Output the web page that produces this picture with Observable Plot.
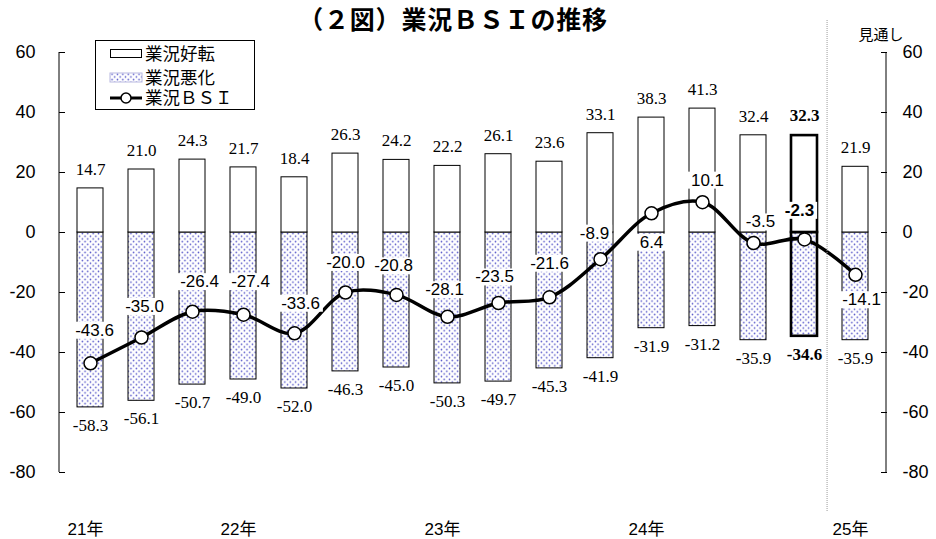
<!DOCTYPE html>
<html><head><meta charset="utf-8">
<script src="https://cdn.jsdelivr.net/npm/d3@7"></script>
<script src="https://cdn.jsdelivr.net/npm/@observablehq/plot@0.6"></script>
<style>body{margin:0;background:#fff;} #chart{width:936px;height:539px;}</style>
</head><body><div id="chart"></div>
<script>
// ---- data ----
const periods = ["P01","P02","P03","P04","P05","P06","P07","P08","P09","P10","P11","P12","P13","P14","P15","P16"];
const improve = [14.7,21.0,24.3,21.7,18.4,26.3,24.2,22.2,26.1,23.6,33.1,38.3,41.3,32.4,32.3,21.9];
const worsen = [-58.3,-56.1,-50.7,-49.0,-52.0,-46.3,-45.0,-50.3,-49.7,-45.3,-41.9,-31.9,-31.2,-35.9,-34.6,-35.9];
const bsi = [-43.6,-35.0,-26.4,-27.4,-33.6,-20.0,-20.8,-28.1,-23.5,-21.6,-8.9,6.4,10.1,-3.5,-2.3,-14.1];
const yearTickAt = ["P01","P04","P08","P12","P16"];
const yearTickLabels = ["21年","22年","23年","24年","25年"];
const yTicks = [-80,-60,-40,-20,0,20,40,60];
const highlightPeriod = "P15";
const forecastStart = "P16";
const legendLabels = ["業況好転","業況悪化","業況ＢＳＩ"];
const titleText = "（２図）業況ＢＳＩの推移";
const forecastLabel = "見通し";
// label placement (pixels) for BSI value labels
const bsiLabelDy = [-33,-31,-30,-33,-30,-30,-29,-27,-26,-34,-26,29,-22,-21,-29,25];
const bsiLabelDx = [4,3,7,7,6,0,-3,-3,-4,0,-6,0,5,7,-5,6];

const rows = periods.map((p, i) => ({p, up: improve[i], down: worsen[i], bsi: bsi[i],
  dy: bsiLabelDy[i], dx: bsiLabelDx[i], hl: p === highlightPeriod}));

const sans = "'Liberation Sans', Arial, 'Noto Sans CJK JP', sans-serif";
const serif = "'Liberation Serif', 'Times New Roman', serif";
const jp = "'Liberation Sans', 'Noto Sans CJK JP', sans-serif";

const bsiGroups = d3.groups(rows, d => `${d.dx}|${d.dy}|${d.hl}`).map(([, g]) => Plot.text(g, {
  x: "p", y: "bsi", text: d => d.bsi.toFixed(1), dx: g[0].dx, dy: g[0].dy,
  fontFamily: sans, fontSize: 17, fontWeight: g[0].hl ? "bold" : "normal", fill: "black",
  ariaDescription: "bsi-label"
}));

const plot = Plot.plot({
  width: 936, height: 539,
  marginLeft: 59, marginRight: 50, marginTop: 52, marginBottom: 67,
  style: {background: "white", color: "black"},
  x: {domain: periods, paddingInner: 0.5, paddingOuter: 0.25, axis: null},
  y: {domain: [-80, 60], axis: null},
  marks: [
    Plot.barY(rows, {x: "p", y1: 0, y2: "down", fill: "url(#dots)", stroke: "black", strokeWidth: d => d.hl ? 2.6 : 1}),
    Plot.barY(rows, {x: "p", y1: 0, y2: "up", fill: "white", stroke: "black", strokeWidth: d => d.hl ? 2.6 : 1}),
    Plot.text(rows.filter(d => !d.hl), {x: "p", y: "up", text: d => d.up.toFixed(1), dy: -19, fontFamily: serif, fontSize: 17}),
    Plot.text(rows.filter(d => d.hl), {x: "p", y: "up", text: d => d.up.toFixed(1), dy: -20, fontFamily: serif, fontSize: 17, fontWeight: "bold"}),
    Plot.text(rows.filter(d => !d.hl), {x: "p", y: "down", text: d => d.down.toFixed(1), dy: 18, fontFamily: serif, fontSize: 17}),
    Plot.text(rows.filter(d => d.hl), {x: "p", y: "down", text: d => d.down.toFixed(1), dy: 18, fontFamily: serif, fontSize: 17, fontWeight: "bold"}),
    Plot.line(rows, {x: "p", y: "bsi", curve: "catmull-rom", stroke: "black", strokeWidth: 3.5}),
    Plot.dot(rows, {x: "p", y: "bsi", r: 6.5, fill: "white", stroke: "black", strokeWidth: 1.5}),
    ...bsiGroups,
    Plot.axisY(yTicks, {anchor: "left", tickSize: -6, tickPadding: 30, tickFormat: d => String(d), fontSize: 18, fontFamily: sans, label: null}),
    Plot.axisY(yTicks, {anchor: "right", tickSize: -6, tickPadding: 22, tickFormat: d => String(d), fontSize: 18, fontFamily: sans, label: null}),
    Plot.axisX(yearTickAt, {anchor: "bottom", tickSize: 0, tickPadding: 50, dx: -5,
      tickFormat: d => yearTickLabels[yearTickAt.indexOf(d)], fontSize: 17, fontFamily: jp, label: null})
  ]
});
document.getElementById("chart").appendChild(plot);

const svg = d3.select(plot);
// pattern
const defs = svg.insert("defs", ":first-child");
const pat = defs.append("pattern").attr("id", "dots").attr("patternUnits", "userSpaceOnUse")
  .attr("width", 5.4).attr("height", 5.4);
pat.append("rect").attr("width", 5.4).attr("height", 5.4).attr("fill", "white");
pat.append("circle").attr("cx", 1.35).attr("cy", 1.35).attr("r", 0.8).attr("fill", "#5252c8");
pat.append("circle").attr("cx", 4.05).attr("cy", 4.05).attr("r", 0.8).attr("fill", "#5252c8");

// white boxes behind BSI labels
svg.selectAll('g[aria-description="bsi-label"]').each(function() {
  const g = this;
  Array.from(g.querySelectorAll("text")).forEach(t => {
    const b = t.getBBox();
    const r = document.createElementNS("http://www.w3.org/2000/svg", "rect");
    r.setAttribute("x", b.x - 3); r.setAttribute("y", b.y + 1);
    r.setAttribute("width", b.width + 6); r.setAttribute("height", b.height - 2);
    r.setAttribute("fill", "white");
    if (t.getAttribute("transform")) r.setAttribute("transform", t.getAttribute("transform"));
    g.insertBefore(r, t);
  });
});

// axis lines & forecast divider from scales
const xs = plot.scale("x"), ys = plot.scale("y");
const [x0, x1] = xs.range;
const [yb, yt] = ys.range;
const band = d3.scaleBand().domain(xs.domain).range(xs.range).paddingInner(xs.paddingInner).paddingOuter(xs.paddingOuter);
const deco = svg.append("g");
deco.append("line").attr("x1", x0).attr("x2", x0).attr("y1", yt).attr("y2", yb).attr("stroke", "black");
deco.append("line").attr("x1", x1).attr("x2", x1).attr("y1", yt).attr("y2", yb).attr("stroke", "black");
const fx = band(forecastStart) + band.bandwidth() / 2 - band.step() * 0.64;
deco.append("line").attr("x1", fx).attr("x2", fx).attr("y1", 20).attr("y2", 512)
  .attr("stroke", "#9a9a9a").attr("stroke-dasharray", "1,1");

// title
svg.append("text").attr("x", 453).attr("y", 18).attr("text-anchor", "middle").attr("dominant-baseline", "central")
  .attr("font-family", "'Noto Sans CJK JP', sans-serif").attr("font-weight", "bold").attr("font-size", 25)
  .attr("letter-spacing", "0.8px").attr("fill", "black").text(titleText);
// forecast label
svg.append("text").attr("x", 881).attr("y", 34).attr("text-anchor", "middle").attr("dominant-baseline", "central")
  .attr("font-family", jp).attr("font-size", 15).attr("fill", "black").text(forecastLabel);

// legend
const lg = svg.append("g").attr("font-family", jp).attr("font-size", 17.5).attr("fill", "black").attr("text-anchor", "start");
lg.append("rect").attr("x", 95.5).attr("y", 40.5).attr("width", 159).attr("height", 69).attr("fill", "white").attr("stroke", "black");
lg.append("rect").attr("x", 110.5).attr("y", 49.5).attr("width", 31).attr("height", 8).attr("fill", "white").attr("stroke", "black");
lg.append("rect").attr("x", 110).attr("y", 73).attr("width", 32).attr("height", 9).attr("fill", "url(#dots)").attr("stroke", "#b8b8e0");
lg.append("line").attr("x1", 110).attr("x2", 142).attr("y1", 98).attr("y2", 98).attr("stroke", "black").attr("stroke-width", 3);
lg.append("circle").attr("cx", 126).attr("cy", 98).attr("r", 5).attr("fill", "white").attr("stroke", "black").attr("stroke-width", 1.5);
[53.5, 77.5, 98].forEach((y, i) => {
  lg.append("text").attr("x", 145).attr("y", y).attr("text-anchor", "start").attr("dominant-baseline", "central").text(legendLabels[i]);
});
</script>
</body></html>
